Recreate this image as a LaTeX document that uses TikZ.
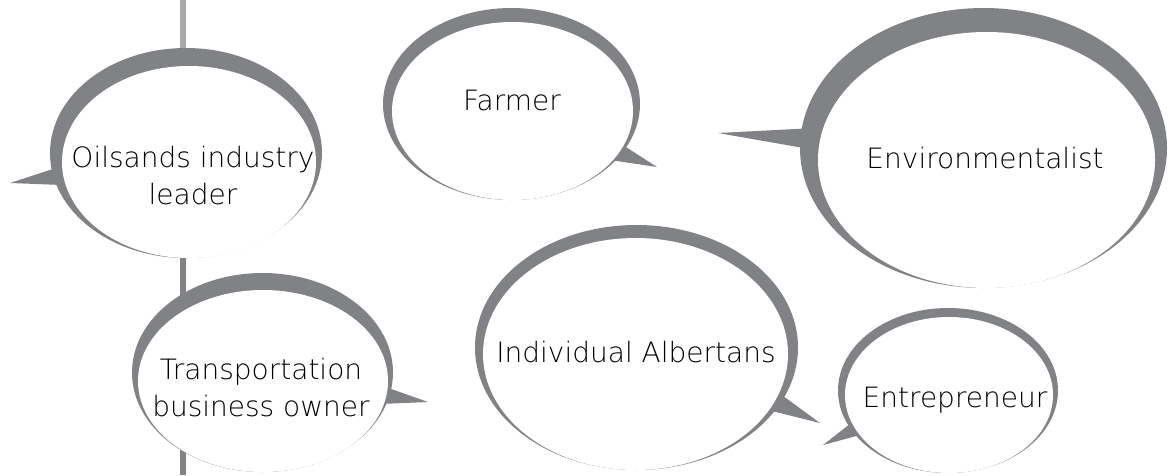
\documentclass[tikz,border=0pt]{standalone}
\usepackage{fontspec}
\setmainfont{DejaVu Sans}[UprightFont=* ExtraLight]
\definecolor{ringgray}{HTML}{808285}
\definecolor{stemgray}{HTML}{A7A9AC}

\tikzset{
  ring/.style={fill=ringgray},
  hole/.style={fill=white},
  said/.style={font=\fontsize{28}{37}\selectfont, align=center, inner sep=0pt}
}

\begin{document}
\begin{tikzpicture}[x=1pt,y=-1pt]
        \useasboundingbox (0,0) rectangle (1175,475);
        % stem behind the bubbles
        \coordinate (stem top) at (183,0);
        \coordinate (stem mid) at (183,50);
        \coordinate (stem end) at (183,475);
        \draw[stemgray, line width=6] (stem top) -- (stem mid);
        \draw[ringgray, line width=6] (stem mid) -- (stem end);
        % oilsands
        \coordinate (oil tip) at (10,183);
        \fill[ring] (oil tip) -- (62,166) -- (62,185) -- cycle;
        \fill[ring] (186,153) ellipse (136 and 105);
        \fill[hole] (189,162) ellipse (127 and 96);
        \node[said] (oil) at (193,176) {Oilsands industry\\leader};
        % farmer
        \coordinate (farm tip) at (657,167);
        \fill[ring] (farm tip) -- (615,140) -- (610,160) -- cycle;
        \fill[ring] (511.5,104) ellipse (128.5 and 96);
        \fill[hole] (512.5,111) ellipse (120.5 and 89);
        \node[said] (farm) at (512,100) {Farmer};
        % environmentalist
        \coordinate (env tip) at (718,133);
        \fill[ring] (env tip) -- (815,128) -- (815,150) -- cycle;
        \fill[ring] (983.5,148) ellipse (183.5 and 140);
        \fill[hole] (986.5,160) ellipse (168.5 and 128);
        \node[said] (env) at (985,158) {Environmentalist};
        % transportation
        \coordinate (trans tip) at (428,402);
        \fill[ring] (trans tip) -- (380,385) -- (380,404) -- cycle;
        \fill[ring] (262.5,372.5) ellipse (130.5 and 99.5);
        \fill[hole] (263,381) ellipse (125 and 91);
        \node[said] (trans) at (261,388) {Transportation\\business owner};
        % individual albertans
        \coordinate (ind tip) at (820,423);
        \fill[ring] (ind tip) -- (775,390) -- (768,410) -- cycle;
        \fill[ring] (636.5,347.5) ellipse (161.5 and 122.5);
        \fill[hole] (635.5,354) ellipse (152.5 and 116);
        \node[said] (ind) at (636,352) {Individual Albertans};
        % entrepreneur
        \coordinate (ent tip) at (823,445);
        \fill[ring] (ent tip) -- (855,420) -- (860,435) -- cycle;
        \fill[ring] (948,390.5) ellipse (110 and 82.5);
        \fill[hole] (949,395) ellipse (104 and 78);
        \node[said] (ent) at (955,400) {Entrepreneur};
    \end{tikzpicture}
\end{document}
